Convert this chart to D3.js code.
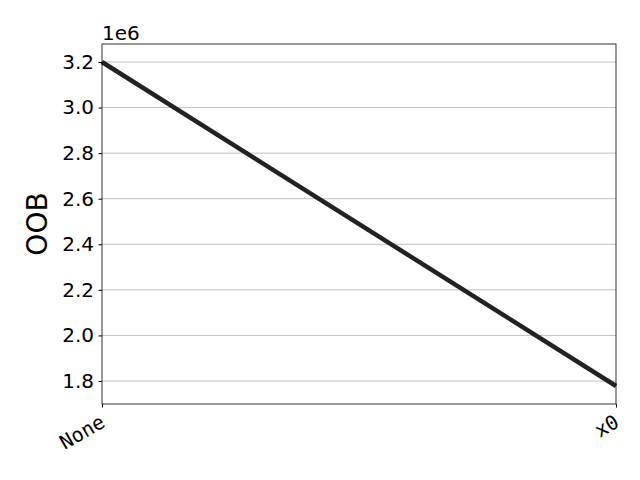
<!DOCTYPE html>
<html><head><script src="https://cdn.jsdelivr.net/npm/d3@7"></script>
<style>body{margin:0;background:#fff}</style></head><body>
<script>
const categories = ["None", "x0"];
const values = [3.2e6, 1.778e6];
const yTicks = [1.8, 2.0, 2.2, 2.4, 2.6, 2.8, 3.0, 3.2];

const W = 640, H = 480, L = 102, R = 616, T = 44, B = 404;
const svg = d3.select("body").append("svg").attr("width", W).attr("height", H)
  .style("font-family", "DejaVu Sans");
const x = d3.scalePoint().domain(categories).range([L, R]);
const y = d3.scaleLinear().domain([1.699e6, 3.279e6]).range([B, T]);

svg.append("g").selectAll("line").data(yTicks).join("line")
  .attr("x1", L).attr("x2", R).attr("y1", d => y(d * 1e6)).attr("y2", d => y(d * 1e6))
  .attr("stroke", "#b0b0b0").attr("stroke-width", 0.8);

const line = d3.line().x((d, i) => x(categories[i])).y(d => y(d));
svg.append("path").datum(values).attr("d", line).attr("fill", "none")
  .attr("stroke", "#222").attr("stroke-width", 4.5);

svg.append("rect").attr("x", L).attr("y", T).attr("width", R - L).attr("height", B - T)
  .attr("fill", "none").attr("stroke", "#000").attr("stroke-width", 0.8);

const ya = svg.append("g").attr("transform", `translate(${L},0)`)
  .call(d3.axisLeft(y).tickValues(yTicks.map(d => d * 1e6)).tickFormat(d => (d / 1e6).toFixed(1)).tickSize(3.5).tickSizeOuter(0));
ya.select(".domain").remove();
ya.selectAll("line").attr("stroke", "#000");
ya.selectAll("text").style("font-size", "20px").style("font-family", "DejaVu Sans").attr("fill", "#000").attr("x", -8);

const xa = svg.append("g").attr("transform", `translate(0,${B})`)
  .call(d3.axisBottom(x).tickSize(3.5).tickSizeOuter(0));
xa.select(".domain").remove();
xa.selectAll("line").attr("stroke", "#000");
xa.selectAll("text").style("font-size", "20px").style("font-family", "DejaVu Sans Mono").attr("fill", "#000")
  .attr("text-anchor", "end").attr("x", 0).attr("y", 0).attr("dy", 0)
  .attr("transform", "translate(4,22) rotate(-30)");

svg.append("text").attr("x", L).attr("y", 40).style("font-size", "20px").text("1e6");
svg.append("text").attr("transform", `translate(47,${(T + B) / 2}) rotate(-90)`)
  .attr("text-anchor", "middle").style("font-size", "28px").text("OOB");
</script></body></html>
